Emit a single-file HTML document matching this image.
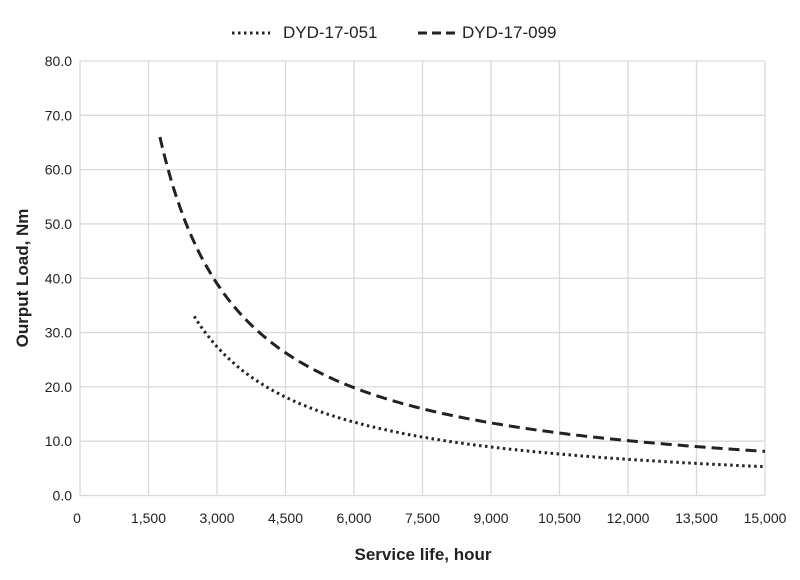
<!DOCTYPE html>
<html><head><meta charset="utf-8"><style>
html,body{margin:0;padding:0;background:#fff;}
svg{display:block;font-family:"Liberation Sans",Arial,sans-serif;}
</style></head><body>
<svg id="s" width="800" height="580" xmlns="http://www.w3.org/2000/svg">
<g id="grid" stroke="#d9d9d9" stroke-width="1.3" fill="none"></g>
<g id="lbl" font-size="14" fill="#222"></g>
<text x="423" y="560" font-size="17" font-weight="bold" text-anchor="middle" fill="#222">Service life, hour</text>
<text transform="translate(28,278) rotate(-90)" font-size="17" font-weight="bold" text-anchor="middle" fill="#222">Ourput Load, Nm</text>
<line x1="232" y1="33" x2="270" y2="33" stroke="#222" stroke-width="3" stroke-dasharray="2.5 3.5"/>
<text x="283" y="38" font-size="17" fill="#222">DYD-17-051</text>
<line x1="418" y1="33" x2="455" y2="33" stroke="#222" stroke-width="3" stroke-dasharray="9 5"/>
<text x="462" y="38" font-size="17" fill="#222">DYD-17-099</text>
<path id="d1" fill="none" stroke="#222" stroke-width="3" stroke-dasharray="2.5 3.5"/>
<path id="d2" fill="none" stroke="#222" stroke-width="3" stroke-dasharray="11 6"/>
</svg>
<script>
var X=function(t){return 80+t/15000*685},Y=function(v){return 495.5-v/80*434.5};
var g=document.getElementById('grid'),l=document.getElementById('lbl'),ns='http://www.w3.org/2000/svg';
function el(p,tag,a,txt){var e=document.createElementNS(ns,tag);for(var k in a)e.setAttribute(k,a[k]);if(txt)e.textContent=txt;p.appendChild(e);}
for(var i=0;i<=8;i++){var y=Y(i*10);el(g,'line',{x1:80,x2:765,y1:y,y2:y});el(l,'text',{x:72,y:y+5,'text-anchor':'end'},(i*10).toFixed(1));}
for(var i=0;i<=10;i++){var t=i*1500,x=X(t);el(g,'line',{x1:x,x2:x,y1:Y(80),y2:Y(0)});el(l,'text',{x:i==0?77:x,y:523,'text-anchor':'middle'},t.toLocaleString('en-US'));}
function curve(id,t0,v0,a){var d='';for(var t=t0;t<=15000;t+=50){d+=(d?'L':'M')+X(t).toFixed(1)+','+Y(v0*Math.pow(t0/t,a)).toFixed(1);}document.getElementById(id).setAttribute('d',d);}
curve('d1',2500,33,1.02);curve('d2',1750,66,0.975);
</script>
</body></html>
